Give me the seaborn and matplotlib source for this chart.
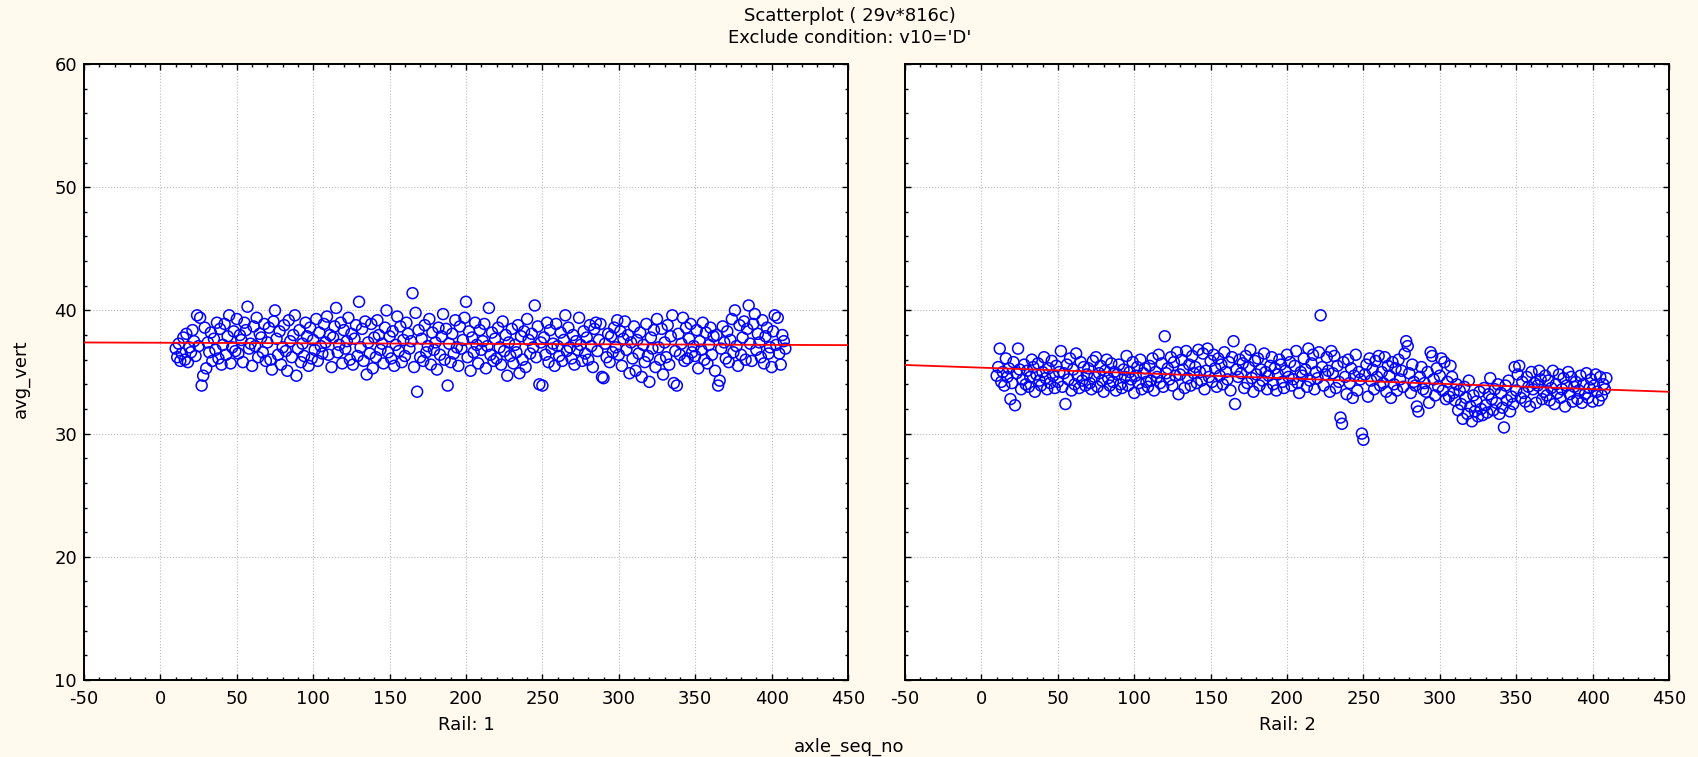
"""Scatterplot of avg_vert against axle_seq_no, split by rail, with linear fits."""
import matplotlib
matplotlib.use('Agg')
import matplotlib.pyplot as plt
from matplotlib.ticker import MultipleLocator
import numpy as np
import pandas as pd
import seaborn as sns

# ~~~~~~~  Data (one row = 20 consecutive axles)  ~~~~~~~ #
rail_1_avg_vert = [
    36.9, 36.2, 37.3, 35.9, 36.5, 37.8, 36.0, 38.1, 35.8, 37.0, 36.6, 38.4, 37.5, 36.3, 39.6, 37.1, 39.4, 33.9, 34.7, 38.6,
    35.3, 37.4, 36.6, 38.2, 35.9, 37.7, 36.8, 39.0, 36.1, 38.5, 35.6, 37.2, 38.9, 36.4, 37.9, 39.6, 35.7, 37.0, 38.3, 36.7,
    39.3, 36.5, 38.0, 37.6, 35.8, 39.0, 38.4, 40.3, 36.9, 37.3, 35.5, 38.7, 37.1, 39.4, 36.2, 38.1, 37.8, 36.6, 38.9, 35.9,
    37.4, 38.6, 36.0, 35.2, 39.1, 40.0, 37.7, 36.4, 38.3, 35.6, 37.0, 38.8, 36.7, 35.1, 39.2, 37.5, 36.2, 38.0, 39.6, 34.7,
    36.9, 38.4, 35.8, 37.3, 36.3, 39.0, 37.9, 35.5, 38.6, 36.1, 37.6, 36.8, 39.3, 35.9, 38.2, 37.1, 36.5, 38.9, 37.4, 39.5,
    36.4, 38.0, 35.4, 37.8, 38.7, 40.2, 36.6, 37.2, 39.0, 35.7, 38.4, 36.9, 37.5, 39.4, 36.0, 38.1, 35.6, 37.7, 38.8, 36.3,
    40.7, 37.0, 38.5, 35.9, 39.1, 34.8, 37.4, 36.5, 38.9, 35.3, 37.8, 36.2, 39.2, 38.0, 36.8, 37.3, 35.7, 38.6, 40.0, 36.6,
    37.9, 36.1, 38.3, 35.5, 37.2, 39.5, 36.7, 38.7, 35.8, 37.6, 36.3, 39.0, 38.1, 36.9, 37.5, 41.4, 35.4, 39.8, 33.4, 38.4,
    36.2, 37.7, 35.9, 38.8, 36.6, 37.1, 39.3, 35.6, 38.2, 36.8, 37.4, 35.2, 38.6, 36.4, 37.9, 39.7, 36.0, 38.5, 33.9, 37.3,
    35.8, 38.1, 36.5, 39.2, 37.0, 35.5, 38.7, 36.9, 37.6, 39.4, 40.7, 36.2, 38.3, 35.1, 37.8, 36.6, 39.0, 37.2, 35.7, 38.4,
    36.8, 37.5, 38.9, 35.3, 37.1, 40.2, 36.4, 38.2, 35.9, 37.7, 36.1, 38.6, 37.0, 35.6, 39.1, 36.7, 38.0, 34.7, 37.4, 36.3,
    38.5, 35.7, 37.2, 36.6, 38.8, 34.9, 37.9, 36.0, 38.3, 35.4, 39.3, 37.6, 36.5, 38.1, 37.0, 40.4, 36.2, 38.7, 34.0, 37.4,
    33.9, 37.8, 36.4, 39.0, 35.8, 38.4, 36.9, 37.3, 35.5, 38.9, 37.1, 36.3, 38.2, 35.9, 37.6, 39.6, 36.7, 38.6, 37.0, 36.1,
    38.0, 35.6, 37.5, 36.8, 39.4, 37.2, 35.9, 38.3, 36.5, 37.8, 36.0, 38.8, 37.1, 35.4, 38.5, 39.0, 36.7, 37.6, 38.9, 34.6,
    34.5, 37.3, 36.2, 38.1, 35.8, 37.9, 36.6, 38.6, 37.0, 39.2, 36.4, 38.3, 35.5, 37.7, 39.1, 36.8, 38.0, 34.9, 37.4, 36.1,
    38.7, 35.1, 37.6, 36.5, 38.2, 34.6, 37.2, 35.8, 38.9, 36.3, 34.2, 37.8, 36.9, 38.4, 35.4, 39.3, 37.0, 36.0, 38.5, 34.8,
    37.4, 36.2, 38.8, 35.6, 37.9, 39.6, 34.1, 36.7, 33.9, 38.1, 36.4, 37.3, 39.4, 35.9, 38.6, 36.1, 37.7, 38.9, 36.6, 37.1,
    36.3, 38.4, 35.3, 37.5, 36.8, 39.0, 36.0, 38.2, 35.7, 37.2, 38.6, 36.4, 37.9, 35.1, 38.0, 33.9, 34.3, 36.9, 38.7, 37.4,
    36.1, 38.3, 35.8, 37.6, 39.3, 36.6, 40.0, 37.1, 35.5, 38.8, 36.4, 37.8, 39.1, 36.0, 38.5, 40.4, 37.3, 35.9, 38.9, 39.7,
    36.8, 38.1, 37.4, 36.2, 39.2, 35.7, 37.9, 38.6, 36.5, 37.0, 35.4, 38.3, 39.6, 37.2, 39.4, 36.5, 35.6, 38.0, 37.5, 36.9,
]
rail_2_avg_vert = [
    34.7, 35.4, 36.9, 34.2, 35.0, 33.9, 36.1, 34.6, 35.3, 32.8, 34.1, 35.8, 32.3, 34.9, 36.9, 35.2, 33.6, 34.4, 35.6, 34.0,
    35.1, 33.8, 34.6, 36.0, 35.4, 33.4, 34.8, 35.7, 34.3, 33.9, 35.0, 36.2, 34.5, 33.6, 35.3, 34.1, 35.9, 34.7, 33.7, 35.5,
    34.2, 35.0, 36.7, 33.8, 34.9, 32.4, 35.6, 34.4, 36.1, 33.5, 35.2, 34.0, 36.5, 34.7, 33.7, 35.8, 34.3, 35.4, 33.9, 34.8,
    35.3, 34.1, 33.6, 35.9, 34.6, 36.2, 33.8, 34.9, 35.5, 34.3, 33.4, 35.1, 36.0, 34.5, 33.9, 35.7, 34.2, 35.0, 33.5, 34.8,
    35.6, 34.0, 33.7, 35.2, 34.6, 36.3, 33.9, 35.0, 34.4, 35.8, 33.3, 34.7, 35.4, 34.1, 36.0, 33.6, 34.9, 35.3, 34.2, 33.8,
    35.5, 34.3, 36.1, 33.5, 35.0, 34.6, 36.4, 34.1, 35.7, 33.8, 37.9, 34.9, 35.3, 34.4, 36.2, 33.9, 35.8, 34.7, 36.6, 33.2,
    34.8, 36.0, 35.2, 33.7, 36.7, 34.5, 35.6, 33.9, 36.3, 34.9, 35.4, 34.1, 36.8, 35.0, 34.3, 36.5, 33.6, 35.1, 36.9, 34.6,
    35.9, 34.2, 36.4, 35.3, 33.8, 36.1, 34.7, 35.6, 34.0, 36.6, 35.0, 34.4, 35.8, 33.5, 36.2, 37.5, 32.4, 35.2, 34.6, 36.0,
    34.9, 35.7, 33.7, 36.3, 34.1, 35.4, 36.8, 34.5, 33.4, 35.9, 34.8, 36.1, 33.9, 35.2, 34.3, 36.5, 35.0, 33.6, 34.7, 35.5,
    36.2, 34.0, 35.3, 33.5, 34.8, 36.0, 35.6, 34.2, 33.7, 35.1, 36.4, 34.6, 35.8, 33.9, 34.4, 35.5, 36.7, 34.1, 33.3, 35.0,
    34.7, 36.1, 35.2, 33.8, 36.9, 34.3, 35.7, 36.4, 33.6, 35.0, 34.5, 36.6, 39.6, 35.4, 33.9, 34.8, 36.2, 35.1, 33.4, 36.7,
    34.9, 36.3, 33.7, 35.5, 34.2, 31.3, 30.8, 35.8, 34.6, 33.2, 36.0, 34.1, 35.3, 32.9, 34.7, 36.4, 33.5, 35.0, 34.4, 30.0,
    29.5, 34.8, 35.6, 33.0, 36.1, 34.3, 35.2, 33.6, 35.9, 34.6, 36.3, 33.9, 35.0, 34.1, 36.2, 33.4, 35.5, 34.7, 32.9, 35.8,
    34.0, 35.3, 33.5, 36.0, 34.4, 35.1, 33.8, 36.5, 37.5, 37.1, 34.9, 33.3, 35.6, 34.2, 33.9, 32.2, 31.8, 34.6, 35.4, 33.6,
    34.1, 33.4, 35.0, 32.5, 36.6, 36.3, 34.4, 33.1, 35.3, 33.8, 34.7, 36.1, 33.5, 35.8, 32.8, 34.2, 33.0, 35.5, 34.6, 33.3,
    32.7, 34.0, 31.9, 33.5, 32.4, 31.2, 33.8, 32.9, 31.6, 34.3, 32.2, 31.0, 33.1, 31.8, 32.6, 31.4, 33.4, 32.0, 31.5, 33.7,
    32.3, 31.7, 33.2, 34.5, 32.8, 31.9, 33.6, 32.5, 34.0, 31.6, 33.3, 32.1, 30.5, 33.9, 32.7, 34.3, 31.8, 33.0, 32.4, 35.4,
    33.5, 34.8, 35.5, 32.9, 34.2, 33.3, 32.6, 34.6, 33.8, 32.2, 35.0, 33.6, 34.1, 32.5, 33.9, 35.1, 34.4, 32.8, 33.4, 34.7,
    33.1, 34.3, 32.7, 33.7, 35.1, 32.4, 34.0, 33.3, 34.8, 32.9, 33.6, 34.5, 32.2, 33.9, 35.0, 33.2, 34.6, 32.6, 33.8, 34.2,
    32.8, 33.5, 34.7, 32.5, 34.0, 33.2, 34.9, 32.9, 33.7, 34.4, 32.6, 33.9, 34.8, 33.4, 32.7, 34.6, 33.1, 34.0, 33.6, 34.5,
]
first_axle = 10  # axle_seq_no of the first plotted axle on each rail
rails = [1, 2]
x_ticks = [-50, 0, 50, 100, 150, 200, 250, 300, 350, 400, 450]
y_ticks = [10, 20, 30, 40, 50, 60]

frames = []
for rail, values in zip(rails, [rail_1_avg_vert, rail_2_avg_vert]):
    frames.append(pd.DataFrame({'axle_seq_no': first_axle + np.arange(len(values)),
                                'avg_vert': values, 'rail': rail}))
data = pd.concat(frames, ignore_index=True)

# ~~~~~~~  Figure  ~~~~~~~ #
sns.set_style('ticks')
plt.rcParams['font.family'] = ['DejaVu Sans']
plt.rcParams['axes.unicode_minus'] = False  # plain hyphen as in the reference
plt.rcParams['text.color'] = 'black'
bg = '#FFF9EE'
fs = 13
fig = plt.figure(figsize=(16.99, 7.57), dpi=100, facecolor=bg)

panel_left = [84 / 1699, 905 / 1699]
panel_width = 764 / 1699
bottom, height = 1 - 680 / 757, 616 / 757

for i, rail in enumerate(rails):
    ax = fig.add_axes([panel_left[i], bottom, panel_width, height])
    ax.set_facecolor('white')
    ax.set_xlim(x_ticks[0], x_ticks[-1])
    ax.set_ylim(y_ticks[0], y_ticks[-1])
    sub = data[data['rail'] == rail]
    sns.regplot(data=sub, x='axle_seq_no', y='avg_vert', ax=ax, ci=None, truncate=False,
                scatter_kws=dict(s=62, facecolor='none', edgecolor='#0000FF', linewidths=1.1, alpha=1),
                line_kws=dict(color='#FF0000', lw=1.3, zorder=4))
    ax.set_xlabel('')
    ax.set_ylabel('')
    ax.set_xticks(x_ticks)
    ax.set_yticks(y_ticks)
    ax.xaxis.set_minor_locator(MultipleLocator(10))
    ax.yaxis.set_minor_locator(MultipleLocator(2))
    ax.tick_params(which='both', direction='in', top=True, right=True, color='black',
                   labelcolor='black', width=1.0)
    ax.tick_params(which='major', length=4.5, labelsize=fs)
    ax.tick_params(axis='x', which='major', pad=7)
    ax.tick_params(axis='y', which='major', pad=5)
    ax.tick_params(which='minor', length=2.2)
    if i == 1:
        ax.tick_params(labelleft=False)
    ax.grid(True, which='major', ls=':', color='#BBBBBB', lw=0.8)
    ax.set_axisbelow(True)
    for side in ax.spines.values():
        side.set_visible(True)
        side.set_color('black')
        side.set_linewidth(1.4)
    centre = panel_left[i] + panel_width / 2
    fig.text(centre, 0.042, f'Rail: {rail}', ha='center', va='center', fontsize=fs)

fig.text(0.5, 0.979, 'Scatterplot ( 29v*816c)', ha='center', va='center', fontsize=fs)
fig.text(0.5, 0.950, "Exclude condition: v10='D'", ha='center', va='center', fontsize=fs)
fig.text(0.5, 0.013, 'axle_seq_no', ha='center', va='center', fontsize=fs)
fig.text(0.012, 0.5, 'avg_vert', ha='center', va='center', rotation=90, fontsize=fs)

fig.savefig('out.png', dpi=100, facecolor=bg)
